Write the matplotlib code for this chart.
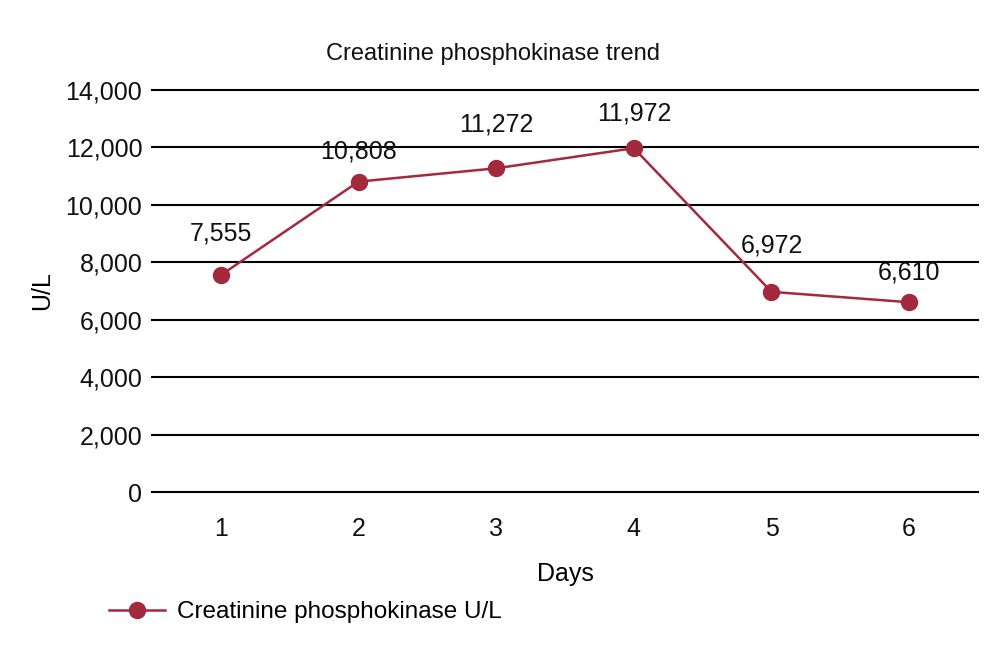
import matplotlib
matplotlib.use("Agg")
import matplotlib.pyplot as plt
from matplotlib.ticker import FuncFormatter

# --- Data ---
days = [1, 2, 3, 4, 5, 6]
cpk = [7555, 10808, 11272, 11972, 6972, 6610]
label_offsets = [30, 21.5, 31.5, 25, 33.5, 21.5]  # points above each marker (label centre)

plt.rcParams['font.family'] = ['Liberation Sans', 'DejaVu Sans']

color = '#a3293d'

fig = plt.figure(figsize=(10, 6.66), dpi=100)
ax = fig.add_axes([0.152, 0.261, 0.826, 0.604])

line, = ax.plot(days, cpk, '-o', color=color, lw=1.8, markersize=11.5,
                label="Creatinine phosphokinase U/L", zorder=3)

for x, y, off in zip(days, cpk, label_offsets):
    ax.annotate(f"{y:,}", (x, y), xytext=(0, off), textcoords='offset points',
                ha='center', va='center', fontsize=18, color='#111111')

ax.set_xlim(0.5, 6.5)
ax.set_ylim(0, 14000)
ax.set_yticks(range(0, 14001, 2000))
ax.set_xticks(days)
ax.yaxis.set_major_formatter(FuncFormatter(lambda v, p: f"{int(v):,}"))
ax.grid(axis='y', color='black', lw=1.5)
for gl in ax.get_ygridlines():
    gl.set_clip_on(False)
ax.set_axisbelow(True)
for s in ax.spines.values():
    s.set_visible(False)
ax.tick_params(axis='both', length=0, labelsize=18, colors='#111111')
ax.tick_params(axis='y', pad=7)
ax.tick_params(axis='x', pad=18)

ax.set_xlabel("Days", fontsize=18, labelpad=15)
ax.set_ylabel("U/L", fontsize=18, labelpad=8)

fig.text(0.493, 0.919, "Creatinine phosphokinase trend", ha='center', va='center',
         fontsize=17, color='#111111')

fig.legend(handles=[line], loc='center left', bbox_to_anchor=(0.087, 0.081),
           frameon=False, fontsize=17.5, handlelength=2.3, handletextpad=0.5)

fig.savefig("out.png", dpi=100)
